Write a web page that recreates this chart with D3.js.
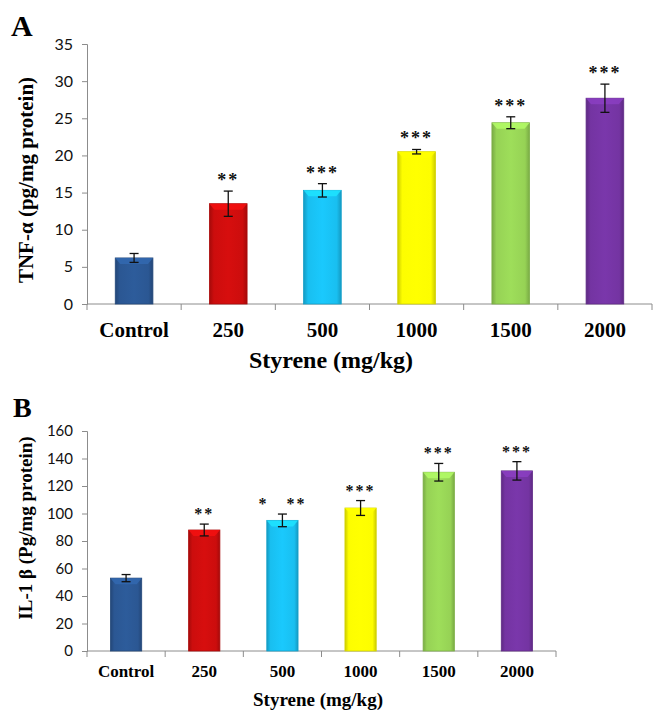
<!DOCTYPE html>
<html>
<head>
<meta charset="utf-8">
<script src="https://cdn.jsdelivr.net/npm/d3@7"></script>
<style>
  body { margin: 0; background: #fff; }
  svg { display: block; }
</style>
</head>
<body>
<div id="chart"></div>
<script>
var categories = ["Control", "250", "500", "1000", "1500", "2000"];
var barColors = ["#2b5793", "#cc0d0d", "#19bff0", "#fdfd00", "#96d255", "#7434a2"];

var tnfMean = [6.2, 13.5, 15.3, 20.5, 24.4, 27.7];
var tnfErr = [0.6, 1.7, 0.9, 0.3, 0.8, 1.9];
var tnfStars = ["", "**", "***", "***", "***", "***"];
var tnfTicks = [0, 5, 10, 15, 20, 25, 30, 35];

var ilMean = [53, 88, 95, 104, 130, 131];
var ilErr = [2.6, 4.3, 4.6, 5.4, 6.4, 6.7];
var ilStars = ["", "**", "*   **", "***", "***", "***"];
var ilTicks = [0, 20, 40, 60, 80, 100, 120, 140, 160];

var width = 653, height = 712;
var serif = "'Liberation Serif', 'Times New Roman', serif";
var sans = "Lato, 'Open Sans', sans-serif";

var svg = d3.select('#chart').append('svg')
    .attr('width', width)
    .attr('height', height);

var defs = svg.append('defs');
barColors.forEach(function(c, i) {
    var g = defs.append('linearGradient').attr('id', 'grad' + i)
        .attr('x1', '0%').attr('x2', '100%').attr('y1', '0%').attr('y2', '0%');
    var dark = d3.color(c).darker(0.6), light = d3.color(c).brighter(0.15);
    g.append('stop').attr('offset', '0%').attr('stop-color', dark);
    g.append('stop').attr('offset', '12%').attr('stop-color', c);
    g.append('stop').attr('offset', '50%').attr('stop-color', light);
    g.append('stop').attr('offset', '88%').attr('stop-color', c);
    g.append('stop').attr('offset', '100%').attr('stop-color', dark);
});

function drawPanel(opt) {
    var g = svg.append('g');

    var x = d3.scaleBand().domain(categories)
        .range([opt.left, opt.right])
        .paddingInner(0.6).paddingOuter(0.3);
    var y = d3.scaleLinear().domain([0, opt.max])
        .range([opt.bottom, opt.top]);

    // y axis
    var yAxis = g.append('g')
        .attr('transform', 'translate(' + opt.left + ',0)')
        .call(d3.axisLeft(y).tickValues(opt.ticks).tickSize(5).tickPadding(opt.tickPad));
    yAxis.selectAll('path, line').attr('stroke', '#8c8c8c');
    yAxis.selectAll('text')
        .style('font-family', sans)
        .style('font-size', opt.tickFont + 'px')
        .attr('fill', '#111');

    // x axis line with ticks at band edges
    g.append('line')
        .attr('x1', opt.left).attr('x2', opt.right)
        .attr('y1', y(0)).attr('y2', y(0))
        .attr('stroke', '#8c8c8c');
    d3.range(categories.length + 1).forEach(function(i) {
        var xx = opt.left + i * x.step();
        g.append('line')
            .attr('x1', xx).attr('x2', xx)
            .attr('y1', y(0)).attr('y2', y(0) + 6)
            .attr('stroke', '#8c8c8c');
    });

    g.selectAll('.catlabel').data(categories)
        .enter().append('text')
        .attr('x', function(d) { return x(d) + x.bandwidth() / 2; })
        .attr('y', opt.catY)
        .attr('text-anchor', 'middle')
        .style('font-family', serif)
        .style('font-weight', 'bold')
        .style('font-size', opt.catFont + 'px')
        .text(function(d) { return d; });

    // bars
    var bars = g.selectAll('.bar').data(opt.mean)
        .enter().append('g');
    bars.append('rect')
        .attr('x', function(d, i) { return x(categories[i]); })
        .attr('y', function(d) { return y(d); })
        .attr('width', x.bandwidth())
        .attr('height', function(d) { return y(0) - y(d); })
        .attr('fill', function(d, i) { return 'url(#grad' + i + ')'; })
        .attr('stroke', function(d, i) { return d3.color(barColors[i]).darker(0.5); })
        .attr('stroke-width', 0.8);
    bars.append('polygon')
        .attr('points', function(d, i) {
            var x0 = x(categories[i]), x1 = x0 + x.bandwidth(), y0 = y(d);
            return [[x0, y0], [x1, y0], [x1 - 5, y0 + 6], [x0 + 5, y0 + 6]].join(' ');
        })
        .attr('fill', function(d, i) { return d3.color(barColors[i]).brighter(0.5); })
        .attr('opacity', 0.85);

    // error bars
    var errs = g.selectAll('.err').data(opt.mean)
        .enter().append('g')
        .attr('stroke', '#111')
        .attr('stroke-width', 1.3);
    function cx(i) { return x(categories[i]) + x.bandwidth() / 2; }
    errs.append('line')
        .attr('x1', function(d, i) { return cx(i); })
        .attr('x2', function(d, i) { return cx(i); })
        .attr('y1', function(d, i) { return y(d + opt.err[i]); })
        .attr('y2', function(d, i) { return y(d - opt.err[i]); });
    [1, -1].forEach(function(s) {
        errs.append('line')
            .attr('x1', function(d, i) { return cx(i) - 4.5; })
            .attr('x2', function(d, i) { return cx(i) + 4.5; })
            .attr('y1', function(d, i) { return y(d + s * opt.err[i]); })
            .attr('y2', function(d, i) { return y(d + s * opt.err[i]); });
    });

    // significance stars
    g.selectAll('.star').data(opt.mean)
        .enter().append('text')
        .attr('x', function(d, i) { return cx(i); })
        .attr('y', function(d, i) { return y(d + opt.err[i]) - opt.starGap; })
        .attr('text-anchor', 'middle')
        .style('font-family', serif)
        .style('font-weight', 'bold')
        .style('font-size', opt.starFont + 'px')
        .style('letter-spacing', '2px')
        .style('white-space', 'pre')
        .attr('fill', '#111')
        .text(function(d, i) { return opt.stars[i]; });

    // panel letter
    g.append('text')
        .attr('x', opt.letterX).attr('y', opt.letterY)
        .style('font-family', serif).style('font-weight', 'bold')
        .style('font-size', opt.letterFont + 'px')
        .text(opt.letter);

    // y label
    g.append('text')
        .attr('transform', 'translate(' + opt.yLabelX + ',' + opt.yLabelY + ') rotate(-90)')
        .attr('text-anchor', 'middle')
        .style('font-family', serif).style('font-weight', 'bold')
        .style('font-size', opt.yLabelFont + 'px')
        .text(opt.yLabel);

    // x label
    g.append('text')
        .attr('x', opt.xLabelX).attr('y', opt.xLabelY)
        .attr('text-anchor', 'middle')
        .style('font-family', serif).style('font-weight', 'bold')
        .style('font-size', opt.xLabelFont + 'px')
        .text('Styrene (mg/kg)');
}

drawPanel({
    mean: tnfMean, err: tnfErr, stars: tnfStars, ticks: tnfTicks, max: 35,
    left: 87, right: 652, top: 44, bottom: 304,
    tickFont: 16, tickPad: 9, catFont: 21, catY: 337, starFont: 18, starGap: 5,
    letter: 'A', letterX: 11, letterY: 36, letterFont: 30,
    yLabel: 'TNF-\u03b1 (pg/mg protein)', yLabelX: 33, yLabelY: 180, yLabelFont: 21,
    xLabelX: 331, xLabelY: 368, xLabelFont: 24
});

drawPanel({
    mean: ilMean, err: ilErr, stars: ilStars, ticks: ilTicks, max: 160,
    left: 87, right: 556, top: 431, bottom: 651,
    tickFont: 15, tickPad: 9, catFont: 17, catY: 677, starFont: 16, starGap: 5,
    letter: 'B', letterX: 13, letterY: 417, letterFont: 28,
    yLabel: 'IL-1 \u03b2 (Pg/mg protein)', yLabelX: 32, yLabelY: 528, yLabelFont: 19,
    xLabelX: 318, xLabelY: 706, xLabelFont: 19
});
</script>
</body>
</html>
